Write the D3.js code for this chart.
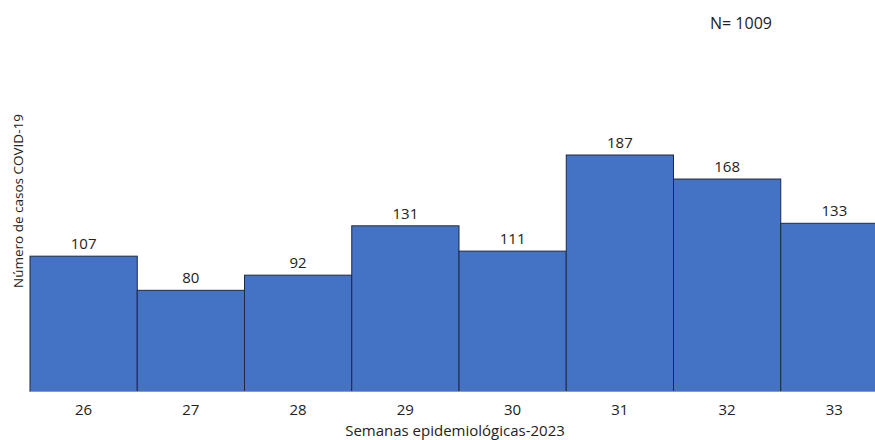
<!DOCTYPE html>
<html>
<head>
<meta charset="utf-8">
<script src="https://cdn.jsdelivr.net/npm/d3@7"></script>
<style>
  body { margin: 0; background: #fff; }
  text { font-family: "Open Sans", "Noto Sans", sans-serif; fill: #222; }
</style>
</head>
<body>
<script>
// chart size
var w = 875;
var h = 440;

var weeks = ["26", "27", "28", "29", "30", "31", "32", "33"];
var cases = [107, 80, 92, 131, 111, 187, 168, 133];
var totalLabel = "N= 1009";
var xTitle = "Semanas epidemiológicas-2023";
var yTitle = "Número de casos COVID-19";

var svg = d3.select("body")
            .append("svg")
            .attr("width", w)
            .attr("height", h);

// bars run off the right edge in the original
var x = d3.scaleBand()
  .domain(weeks)
  .range([30, 888])
  .padding(0);

var y = d3.scaleLinear()
  .domain([0, 187])
  .range([391.5, 155]);

var bars = svg.append("g").attr("class", "bars");

bars.selectAll("rect")
  .data(cases)
  .enter()
  .append("rect")
    .attr("x", function(d, i) { return x(weeks[i]); })
    .attr("y", function(d) { return y(d); })
    .attr("width", x.bandwidth())
    .attr("height", function(d) { return y(0) - y(d); })
    .attr("fill", "#4472c4")
    .attr("stroke", "#1c2a45")
    .attr("stroke-width", 1);

// value labels
svg.append("g").selectAll("text")
  .data(cases)
  .enter()
  .append("text")
    .attr("x", function(d, i) { return x(weeks[i]) + x.bandwidth() / 2; })
    .attr("y", function(d) { return y(d) - 7; })
    .attr("text-anchor", "middle")
    .attr("fill", "#222")
    .style("font-size", "15px")
    .text(function(d) { return d; });

// x axis, no line or ticks
var xAxis = svg.append("g")
  .attr("transform", "translate(0," + y(0) + ")")
  .call(d3.axisBottom(x).tickSize(0).tickPadding(13));
xAxis.select(".domain").remove();
xAxis.selectAll("text")
  .style("font-size", "15px")
  .style("font-family", "'Open Sans', 'Noto Sans', sans-serif")
  .attr("fill", "#222");

svg.append("line")
  .attr("x1", 30).attr("x2", w)
  .attr("y1", y(0)).attr("y2", y(0))
  .attr("stroke", "#9a9a9a")
  .attr("stroke-width", 1);

// titles
svg.append("text")
  .attr("x", 455)
  .attr("y", 436)
  .attr("text-anchor", "middle")
  .style("font-size", "15px")
  .text(xTitle);

svg.append("text")
  .attr("transform", "translate(23,201) rotate(-90)")
  .attr("text-anchor", "middle")
  .style("font-size", "13.5px")
  .text(yTitle);

svg.append("text")
  .attr("x", 710)
  .attr("y", 29)
  .style("font-size", "16px")
  .text(totalLabel);
</script>
</body>
</html>
